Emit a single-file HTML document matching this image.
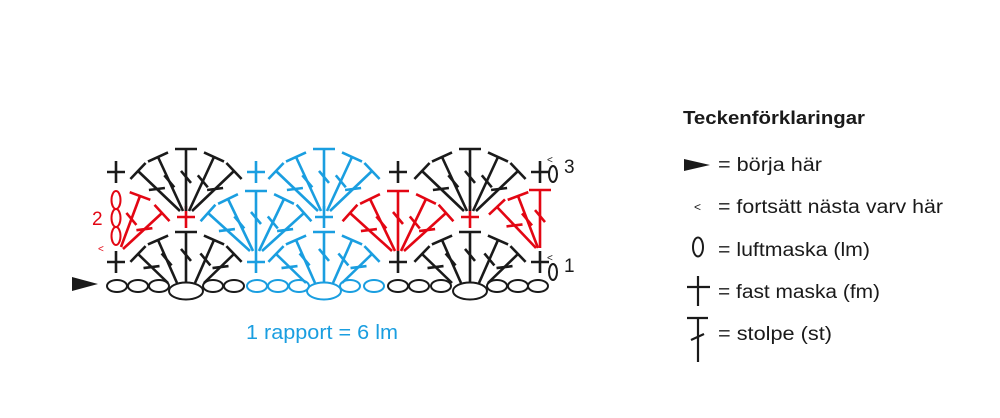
<!DOCTYPE html>
<html><head><meta charset="utf-8"><style>
html,body{margin:0;padding:0;background:#fff;width:1000px;height:418px;overflow:hidden}
svg{display:block}
text{font-family:"Liberation Sans",sans-serif}
</style></head><body>
<svg id="s" width="1000" height="418" viewBox="0 0 1000 418" xmlns="http://www.w3.org/2000/svg">
<g id="g" fill="none" stroke-width="2.6" stroke-linecap="butt"></g>
<polygon points="72,277 98,284 72,291" fill="#1a1a1a"/>
<text x="92" y="225" font-size="19" fill="#e30613">2</text>
<text x="564" y="173" font-size="19" fill="#1a1a1a">3</text>
<text x="564" y="272" font-size="19" fill="#1a1a1a">1</text>
<text x="246" y="339" font-size="20" fill="#1a9ee0" textLength="152" lengthAdjust="spacingAndGlyphs">1 rapport = 6 lm</text>
<text x="683" y="124" font-size="18" font-weight="bold" fill="#1a1a1a" textLength="182" lengthAdjust="spacingAndGlyphs">Teckenförklaringar</text>
<polygon points="684,159 710,165 684,171" fill="#1a1a1a"/>
<text x="718" y="171" font-size="19" fill="#1a1a1a" textLength="104" lengthAdjust="spacingAndGlyphs">= börja här</text>
<text x="694" y="211" font-size="12" fill="#1a1a1a">&lt;</text>
<text x="718" y="213" font-size="19" fill="#1a1a1a" textLength="225" lengthAdjust="spacingAndGlyphs">= fortsätt nästa varv här</text>
<ellipse cx="698" cy="247" rx="5" ry="9.5" stroke="#1a1a1a" stroke-width="2" fill="none"/>
<text x="718" y="256" font-size="19" fill="#1a1a1a" textLength="152" lengthAdjust="spacingAndGlyphs">= luftmaska (lm)</text>
<path d="M687 287H710M698 276V306" stroke="#1a1a1a" stroke-width="2.2"/>
<text x="718" y="298" font-size="19" fill="#1a1a1a" textLength="162" lengthAdjust="spacingAndGlyphs">= fast maska (fm)</text>
<path d="M687 318H708M698 318V362M691 340L704 334" stroke="#1a1a1a" stroke-width="2.2"/>
<text x="718" y="340" font-size="19" fill="#1a1a1a" textLength="114" lengthAdjust="spacingAndGlyphs">= stolpe (st)</text>
</svg>
<script>
var K="#1a1a1a",R="#e30613",B="#1a9ee0";
var g=document.getElementById('g'),h='';
function L(x1,y1,x2,y2,c){h+='<line x1="'+x1.toFixed(1)+'" y1="'+y1.toFixed(1)+'" x2="'+x2.toFixed(1)+'" y2="'+y2.toFixed(1)+'" stroke="'+c+'"/>';}
function E(cx,cy,rx,ry,c){h+='<ellipse cx="'+cx+'" cy="'+cy+'" rx="'+rx+'" ry="'+ry+'" stroke="'+c+'" stroke-width="2"/>';}
function fc(x,y,c){L(x-9,y,x+9,y,c);L(x,y-11,x,y+11,c);}
function st(x0,y0,x1,y1,c){
 L(x0,y0,x1,y1,c);
 var dx=x1-x0,dy=y1-y0,l=Math.hypot(dx,dy);dx/=l;dy/=l;
 var px=-dy,py=dx;L(x1-px*11,y1-py*11,x1+px*11,y1+py*11,c);
 var mx=x0+(x1-x0)*0.55,my=y0+(y1-y0)*0.55;
 if(Math.abs(dx)>0.6){L(mx-8,my+1,mx+8,my-1,c);}
 else{L(mx-5,my-6,mx+5,my+6,c);}
}
var TOP=[[-48,22],[-28,8],[0,0],[28,8],[48,22]];
function fan(bx,by,ty,spread,c){[0,1,2,3,4].forEach(function(i){var t=TOP[i];var b=[-2,-1,0,1,2][i]*spread;
 st(bx+b,by,bx+t[0],ty+t[1],c);});}
var ch=[[117,10,K],[138,10,K],[159,10,K],[186,17,K],[213,10,K],[234,10,K],[257,10,B],[278,10,B],[299,10,B],[324,17,B],[350,10,B],[374,10,B],[398,10,K],[419,10,K],[441,10,K],[470,17,K],[497,10,K],[518,10,K],[538,10,K]];
ch.forEach(function(o){E(o[0],o[1]==17?291:286,o[1],o[1]==17?8.5:6,o[2]);});
fc(116,262,K);fan(186,283,232,9,K);fc(256,262,B);fan(324,283,232,9,B);fc(398,262,K);fan(470,283,232,9,K);fc(540,262,K);
E(553,272,4,8,K);
E(116,200,4.5,9,R);E(116,218,4.5,9,R);E(116,236,4.5,9,R);
st(121,247,140,196,R);st(123,249,162,213,R);
fc(186,217,R);fan(256,251,191,3,B);fc(324,217,B);fan(398,251,191,3,R);fc(470,217,R);
st(536,248,497,207,R);st(538,248,518,196,R);st(540,248,540,190,R);
fc(116,172,K);fan(186,211,149,3,K);fc(256,172,B);fan(324,211,149,3,B);fc(398,172,K);fan(470,211,149,3,K);fc(540,172,K);
E(553,174,4,8,K);
g.innerHTML=h;
var s=document.getElementById('s');
s.insertAdjacentHTML('beforeend','<text x="98" y="252" font-size="10" fill="'+R+'">&lt;</text><text x="547" y="163" font-size="10" fill="'+K+'">&lt;</text><text x="547" y="261" font-size="10" fill="'+K+'">&lt;</text>');
</script>
</body></html>
